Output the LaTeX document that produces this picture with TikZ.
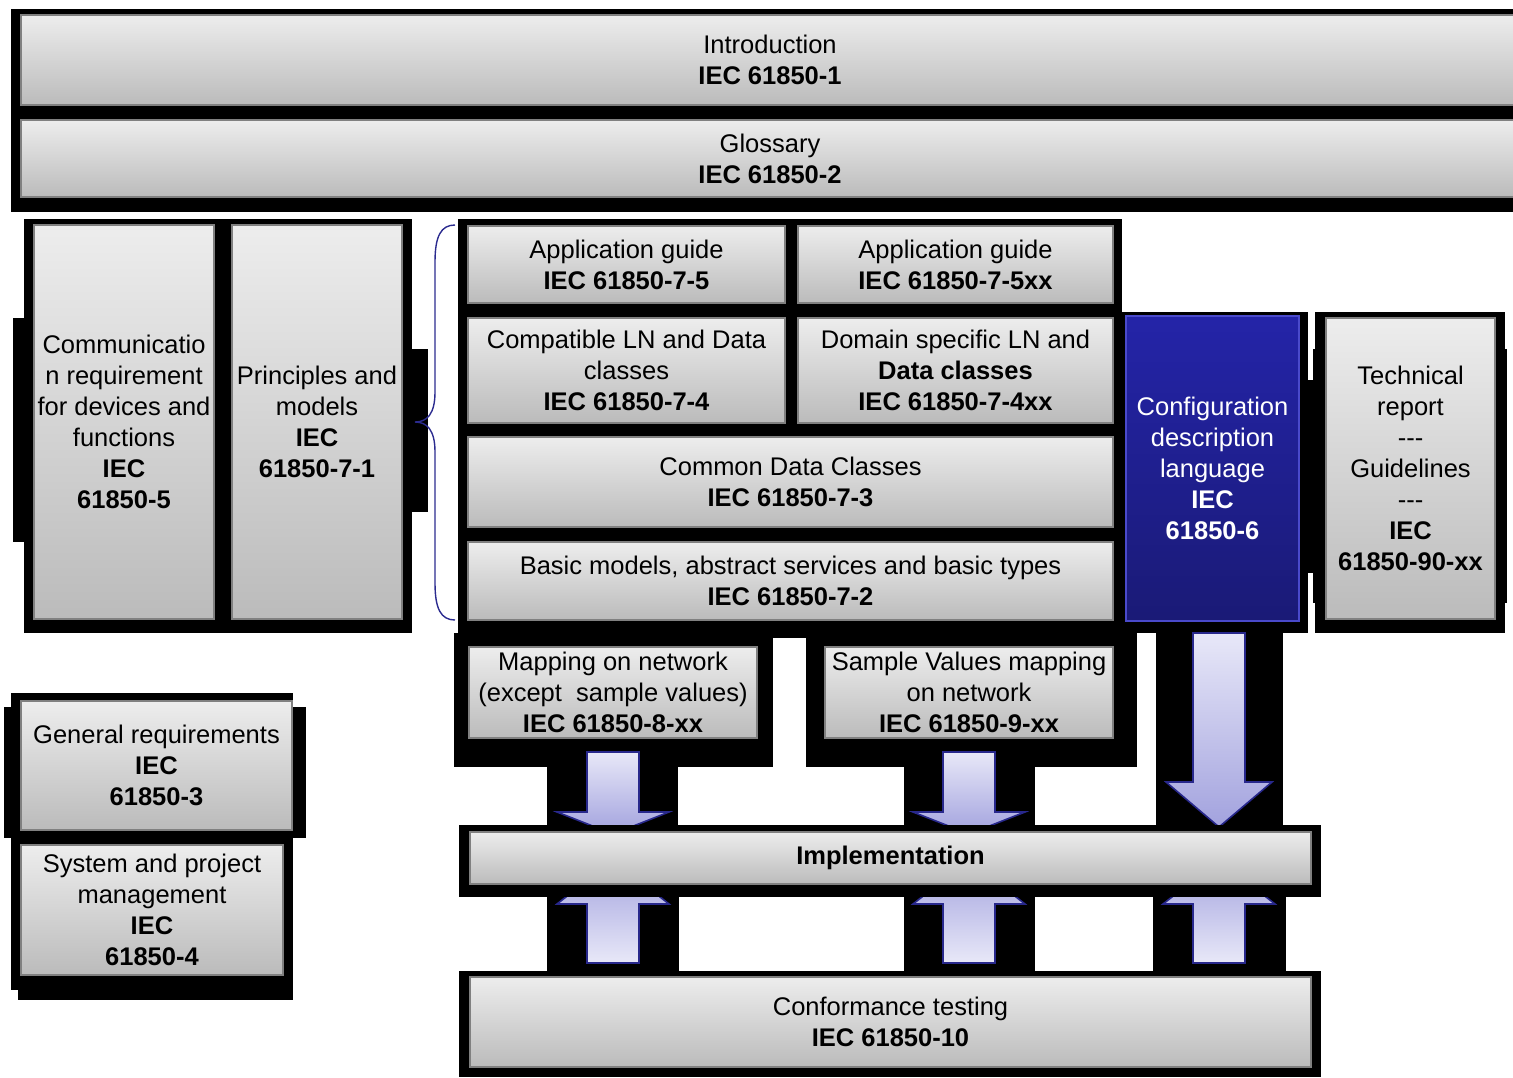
\documentclass[tikz,border=0pt]{standalone}
\usepackage{fontspec}
\setmainfont{Liberation Sans}
\definecolor{gtop}{HTML}{EDEDED}
\definecolor{gbot}{HTML}{BBBBBB}
\definecolor{gline}{HTML}{808080}
\definecolor{btop}{HTML}{2424A8}
\definecolor{bbot}{HTML}{1A1A76}
\definecolor{bline}{HTML}{4A4ACB}
\definecolor{alight}{HTML}{E8E8F8}
\definecolor{adark}{HTML}{A2A2DE}
\definecolor{aline}{HTML}{28288C}
\definecolor{brc}{HTML}{2B2B8F}
\tikzset{
  gbox/.style={draw=gline, line width=0.6pt, top color=gtop, bottom color=gbot, inner sep=0pt, align=center,
    font=\fontsize{12.75}{15.5}\selectfont},
  bbox/.style={draw=bline, line width=0.6pt, top color=btop, bottom color=bbot, inner sep=0pt, align=center,
    text=white, font=\fontsize{12.75}{15.5}\selectfont},
  arr/.style={draw=aline, line width=0.8pt},
  blk/.style={fill=black}
}
\newcommand\bx[7]{\node[#2, minimum width={(#5-#3)*0.5pt}, minimum height={(#6-#4)*0.5pt}] (#1) at ({(#3+#5)/2},{(#4+#6)/2}) {#7};}
% cx, half shaft, start y, head base y, head half, tip y, top colour, bottom colour
\newcommand\blockarrow[8]{\draw[arr, top color=#7, bottom color=#8] (#1-#2,#3) -- (#1+#2,#3) -- (#1+#2,#4) -- (#1+#5,#4) -- (#1,#6) -- (#1-#5,#4) -- (#1-#2,#4) -- cycle;}
\begin{document}
\begin{tikzpicture}[x=0.5pt,y=-0.5pt]
\useasboundingbox (0,0) rectangle (1513,1077);
\clip (0,0) rectangle (1513,1077);
% black backgrounds
\fill[blk] (11,9) rectangle (1520,212);
\fill[blk] (24,219) rectangle (412,633);
\fill[blk] (13,318) rectangle (24,542);
\fill[blk] (412,349) rectangle (428,512);
\fill[blk] (458,219) rectangle (1122,638);
\fill[blk] (1122,312) rectangle (1308,633);
\fill[blk] (1308,380) rectangle (1313,573);
\fill[blk] (1315,312) rectangle (1505,633);
\fill[blk] (1313,349) rectangle (1507,603);
\fill[blk] (1156,633) rectangle (1283,826);
\fill[blk] (454,633) rectangle (773,767);
\fill[blk] (806,633) rectangle (1137,767);
\fill[blk] (547,767) rectangle (678,826);
\fill[blk] (904,767) rectangle (1035,826);
\fill[blk] (547,897) rectangle (679,971);
\fill[blk] (904,897) rectangle (1035,971);
\fill[blk] (1153,897) rectangle (1286,971);
\fill[blk] (11,693) rectangle (293,840);
\fill[blk] (4,707) rectangle (306,838);
\fill[blk] (11,838) rectangle (293,990);
\fill[blk] (18,840) rectangle (293,1000);
% block arrows
\blockarrow{613}{26}{752}{812}{56}{834}{alight}{adark}
\blockarrow{969}{26}{752}{812}{56}{834}{alight}{adark}
\blockarrow{1219}{26}{633}{782}{53}{827}{alight}{adark}
\blockarrow{613}{26}{963}{904}{56}{860}{adark}{alight}
\blockarrow{969}{26}{963}{904}{56}{860}{adark}{alight}
\blockarrow{1219}{26}{963}{904}{56}{860}{adark}{alight}
\fill[blk] (459,825) rectangle (1321,897);
\fill[blk] (459,971) rectangle (1321,1077);
% boxes
\bx{intro}{gbox}{21}{15}{1519}{105}{Introduction\\\textbf{IEC 61850-1}}
\bx{gloss}{gbox}{21}{120}{1519}{197}{Glossary\\\textbf{IEC 61850-2}}
\bx{comm}{gbox}{34}{225}{214}{619}{Communicatio\\n requirement\\for devices and\\functions\\\textbf{IEC}\\\textbf{61850-5}}
\bx{princ}{gbox}{232}{225}{402}{619}{Principles and\\models\\\textbf{IEC}\\\textbf{61850-7-1}}
\bx{ag5}{gbox}{468}{226}{785}{303}{Application guide\\\textbf{IEC 61850-7-5}}
\bx{ag5xx}{gbox}{798}{226}{1113}{303}{Application guide\\\textbf{IEC 61850-7-5xx}}
\bx{compat}{gbox}{468}{318}{785}{423}{Compatible LN and Data\\classes\\\textbf{IEC 61850-7-4}}
\bx{domain}{gbox}{798}{318}{1113}{423}{Domain specific LN and\\\textbf{Data classes}\\\textbf{IEC 61850-7-4xx}}
\bx{cdc}{gbox}{468}{437}{1113}{527}{Common Data Classes\\\textbf{IEC 61850-7-3}}
\bx{basic}{gbox}{468}{542}{1113}{620}{Basic models, abstract services and basic types\\\textbf{IEC 61850-7-2}}
\bx{scl}{bbox}{1126}{316}{1299}{621}{Configuration\\description\\language\\\textbf{IEC}\\\textbf{61850-6}}
\bx{tech}{gbox}{1326}{318}{1495}{619}{Technical\\report\\{-}{-}{-}\\Guidelines\\{-}{-}{-}\\\textbf{IEC}\\\textbf{61850-90-xx}}
\bx{map}{gbox}{469}{647}{757}{738}{Mapping on network\\(except\ \ sample values)\\\textbf{IEC 61850-8-xx}}
\bx{sv}{gbox}{825}{647}{1113}{738}{Sample Values mapping\\on network\\\textbf{IEC 61850-9-xx}}
\bx{impl}{gbox}{470}{832}{1311}{884}{\textbf{Implementation}}
\bx{conf}{gbox}{470}{977}{1311}{1067}{Conformance testing\\\textbf{IEC 61850-10}}
\bx{gen}{gbox}{21}{701}{292}{830}{General requirements\\\textbf{IEC}\\\textbf{61850-3}}
\bx{sys}{gbox}{21}{845}{283}{975}{System and project\\management\\\textbf{IEC}\\\textbf{61850-4}}
% brace
\draw[brc, line width=0.7pt] (455,225) .. controls (441,225) and (435,236) .. (435,262) -- (435,392)
  .. controls (435,414) and (427,422) .. (415,422) .. controls (427,422) and (435,430) .. (435,452)
  -- (435,583) .. controls (435,609) and (441,620) .. (455,620);
\end{tikzpicture}
\end{document}
